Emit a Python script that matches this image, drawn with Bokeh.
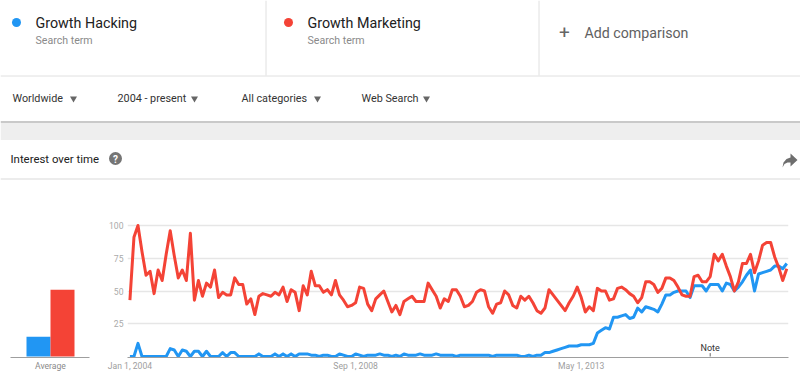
import pandas as pd
from bokeh.plotting import figure
from bokeh.models import Range1d, FixedTicker
from bokeh.layouts import column, row
from bokeh.embed import file_html
from bokeh.resources import INLINE
from bokeh.core.properties import value

# ---------------- data ----------------
terms = ["Growth Hacking", "Growth Marketing"]
term_sub = ["Search term", "Search term"]
colors = ["#2196F3", "#F44336"]
filters = ["Worldwide", "2004 - present", "All categories", "Web Search"]

# monthly interest, Jan 2004 .. Aug 2017
hacking = [0, 0, 10, 0, 0, 0, 0, 0, 0, 0,
           6, 5, 0, 5, 4, 0, 4, 4, 0, 4,
           0, 0, 0, 3, 0, 3, 3, 0, 0, 0,
           0, 0, 2, 0, 0, 0, 2, 0, 2, 0,
           2, 0, 2, 2, 2, 1, 1, 0, 1, 1,
           0, 0, 2, 1, 0,
           0, 2, 1, 0, 1, 1, 1, 2, 1, 1, 0, 1, 0, 2, 1, 1, 1, 2, 1, 1, 1, 2, 1,
           1, 1, 1, 0, 1, 1, 1, 1, 1, 1, 1, 1, 0, 1, 1, 1, 1, 1, 1,
           0, 0, 1, 0, 1, 1, 3, 3, 4, 5, 6,
           7, 8, 8, 8, 9, 9, 9, 10,
           18, 20, 22, 21, 30, 30, 31, 32, 29, 30,
           37, 34, 38, 37, 36, 34, 40, 47, 47, 49,
           50, 50, 50, 45, 54, 54, 54, 50, 55, 55,
           55, 50, 56, 55, 50, 53, 57, 62, 66, 50,
           63, 64, 65, 66, 69, 69, 67, 71]
marketing = [43, 91, 100, 80, 62, 65, 48, 66, 58, 78,
             96, 77, 60, 66, 58, 94, 43, 58, 46, 56,
             53, 66, 45, 49, 47, 47, 60, 55,
             55, 40, 44, 32, 46, 48, 47, 46, 49, 47,
             53, 42, 51, 49, 35, 54, 47, 65, 54, 54,
             49, 51, 47, 58, 47, 43,
             38, 39, 41, 53, 52, 40, 35, 44, 47, 50,
             42, 34, 39, 32, 42, 44, 46, 42, 42, 42,
             56, 51, 46, 37, 44, 42, 51,
             51, 46, 38, 39, 42, 49, 51, 50, 38, 33,
             40, 41, 50, 47, 39, 37, 46, 43, 46, 41,
             35, 33, 37, 51, 47, 43, 39,
             35, 41, 46, 53, 45, 34, 38, 35, 52, 50,
             50, 43, 44, 52, 53, 51, 48, 46, 41, 45,
             57, 57, 55, 49, 52, 60, 60, 58,
             53, 47, 46, 46, 61, 62, 57, 57, 61, 78,
             73, 78, 69, 61, 50, 57, 71, 71, 78, 64,
             73, 85, 87, 87, 76, 68, 58, 67]
months = list(range(len(marketing)))          # months since Jan 2004
averages = [15, 51]
tick_months = [0, 56, 112]
tick_labels = ["Jan 1, 2004", "Sep 1, 2008", "May 1, 2013"]
y_ticks = [25, 50, 75, 100]
note_month = 144

FONT = value("Roboto")


def style_axis(ax, color, size, standoff):
    ax.major_tick_line_color = None
    ax.minor_tick_line_color = None
    ax.major_tick_out = 0
    ax.major_tick_in = 0
    ax.minor_tick_out = 0
    ax.minor_tick_in = 0
    ax.major_label_standoff = standoff
    ax.major_label_text_font = "Roboto"
    ax.major_label_text_font_size = size
    ax.major_label_text_color = color


# ---------------- header (page pixel space) ----------------
H = figure(width=800, height=185, x_range=Range1d(0, 800), y_range=Range1d(185, 0),
           output_backend="svg", toolbar_location=None, min_border=0,
           x_axis_location=None, y_axis_location=None)
H.grid.visible = False
H.outline_line_color = None

H.segment(x0=[265.5, 538.5], y0=[0, 0], x1=[265.5, 538.5], y1=[75, 75], line_color="#e0e0e0", line_width=1)
H.segment(x0=[0], y0=[75.5], x1=[800], y1=[75.5], line_color="#e0e0e0", line_width=1)
H.quad(left=0, right=800, top=120.5, bottom=122.5, fill_color="#c9c9c9", line_color=None)
H.quad(left=0, right=800, top=122.5, bottom=139.5, fill_color="#eeeeee", line_color=None)
H.quad(left=0, right=800, top=177.5, bottom=179.5, fill_color="#ececec", line_color=None)

H.scatter(x=[16, 288], y=[22, 22], size=9, color=colors, line_color=None)
H.text(x=[35, 307], y=[22, 22], text=terms, text_font=FONT, text_font_size="14.3px",
       text_color="#212121", text_baseline="middle")
H.text(x=[35, 307], y=[40, 40], text=term_sub, text_font=FONT, text_font_size="10.6px",
       text_color="#8a8a8a", text_baseline="middle")
H.text(x=[564], y=[31.5], text=["+"], text_font=FONT, text_font_size="19px",
       text_color="#666666", text_baseline="middle", text_align="center")
H.text(x=[584], y=[32], text=["Add comparison"], text_font=FONT, text_font_size="14.2px",
       text_color="#616161", text_baseline="middle")

H.text(x=[12, 117, 241, 361], y=[98] * 4, text=filters, text_font=FONT, text_font_size="10.8px",
       text_color="#333333", text_baseline="middle")
H.scatter(x=[73, 194, 317, 426], y=[98] * 4, marker="inverted_triangle", size=7,
          color="#666666", line_color=None)

H.text(x=[10], y=[158], text=["Interest over time"], text_font=FONT, text_font_size="11.4px",
       text_color="#212121", text_baseline="middle")
H.scatter(x=[115], y=[158], size=13, color="#757575", line_color=None)
H.text(x=[115], y=[158.5], text=["?"], text_font=FONT, text_font_size="10px",
       text_font_style="bold", text_color="white", text_baseline="middle", text_align="center")
H.patch(x=[790, 797, 790, 790, 787, 784, 782, 783, 786, 790],
        y=[153, 159.5, 166, 162, 162, 163.5, 167, 162, 158.5, 157],
        color="#6e6e6e", line_color=None)

# ---------------- average bars ----------------
A = figure(width=105, height=196, x_range=Range1d(-0.6667, 2.625), y_range=Range1d(-0.76, 107.63),
           output_backend="svg", toolbar_location=None, min_border_left=10, min_border_right=16,
           min_border_top=30, min_border_bottom=24, y_axis_location=None)
A.grid.visible = False
A.outline_line_color = None
A.vbar(x=[0.5, 1.5], top=averages, bottom=0, width=1.0, color=colors, line_color=None)
A.xaxis.ticker = FixedTicker(ticks=[1])
A.xaxis.major_label_overrides = {1: "Average"}
A.xaxis.axis_line_color = "#9e9e9e"
style_axis(A.xaxis, "#8a8a8a", "8.6px", 3)

# ---------------- interest over time ----------------
L = figure(width=695, height=196, x_range=Range1d(-0.6, 163.43), y_range=Range1d(-0.76, 107.63),
           output_backend="svg", toolbar_location=None, min_border_left=22, min_border_right=12,
           min_border_top=30, min_border_bottom=24)
L.outline_line_color = None
L.xgrid.visible = False
L.ygrid.ticker = FixedTicker(ticks=y_ticks)
L.ygrid.grid_line_color = "#e6e6e6"
L.ygrid.grid_line_width = 1.5

L.line(months, hacking, line_color=colors[0], line_width=3, line_join="round")
L.line(months, marketing, line_color=colors[1], line_width=3, line_join="round")

L.yaxis.ticker = FixedTicker(ticks=y_ticks)
L.yaxis.axis_line_color = None
style_axis(L.yaxis, "#aaaaaa", "8.6px", 4)

L.xaxis.ticker = FixedTicker(ticks=tick_months)
L.xaxis.major_label_overrides = dict(zip(tick_months, tick_labels))
L.xaxis.axis_line_color = "#9e9e9e"
style_axis(L.xaxis, "#9e9e9e", "8.6px", 3)

L.segment(x0=[note_month], y0=[0], x1=[note_month], y1=[2.6], line_color="#666666", line_width=1)
L.text(x=[note_month], y=[6.2], text=["Note"], text_font=FONT, text_font_size="9px",
       text_color="#333333", text_align="center", text_baseline="middle")

layout = column(H, row(A, L))
open("out.html", "w").write(file_html(layout, INLINE))
